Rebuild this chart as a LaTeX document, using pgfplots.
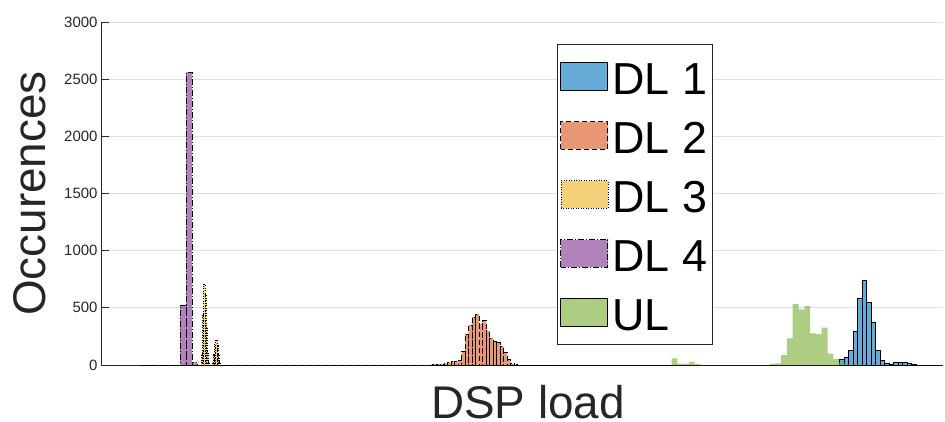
\documentclass[border=0pt]{standalone}
\usepackage{pgfplots}
\pgfplotsset{compat=1.18}
\usepackage{fontspec}
\setmainfont{Liberation Sans}

\definecolor{mblue}{rgb}{0,0.447,0.741}
\definecolor{morange}{rgb}{0.850,0.325,0.098}
\definecolor{myellow}{rgb}{0.929,0.694,0.125}
\definecolor{mpurple}{rgb}{0.494,0.184,0.556}
\definecolor{mgreen}{rgb}{0.466,0.674,0.188}
\definecolor{axgray}{rgb}{0.15,0.15,0.15}

\pgfplotsset{
  hist/.style={ybar interval, fill opacity=0.6, line width=0.9bp,
    legend image code/.code={\draw[##1] (0bp,-13.6bp) rectangle (47bp,13.6bp);}},
}

\begin{document}
\begin{tikzpicture}
\useasboundingbox (-101bp,-57bp) rectangle (844bp,365bp);
\begin{axis}[
  scale only axis, width=842bp, height=343bp,
  xmin=101, xmax=943, ymin=0, ymax=3000,
  axis x line=bottom, axis y line=left,
  axis line style={draw=axgray, line width=0.8bp, -},
  xtick=\empty,
  ytick={0,500,...,3000},
  ymajorgrids, grid style={gray!25, line width=0.8bp},
  tick align=inside, major tick length=8bp,
  tick style={axgray, line width=0.8bp},
  scaled y ticks=false,
  /pgf/number format/assume math mode=true,
  /pgf/number format/1000 sep={},
  yticklabel style={font=\fontsize{15}{18}\selectfont, text=axgray},
  xlabel={DSP load}, ylabel={Occurences},
  label style={font=\fontsize{46}{52}\selectfont, text=axgray, inner sep=0pt},
  xlabel style={at={(axis description cs:0.507,-0.157)}, anchor=base},
  ylabel style={at={(axis description cs:-0.0843,0.5)}, anchor=center},
  legend style={at={(axis description cs:0.5416,0.9359)}, anchor=north west,
    draw=axgray, line width=0.8bp, fill=white,
    font=\fontsize{45}{50}\selectfont,
    inner xsep=3bp, inner ysep=12bp, row sep=19bp, column sep=2bp,
    nodes={inner sep=2bp, text height=36bp, text depth=0bp}},
  legend cell align=left,
]
% DL 1: solid edges
\addplot[hist, fill=mblue, draw=black]
  coordinates {(555,0) (839.5,52) (844,64) (848.5,131) (853,297) (857.5,586)
    (862,743) (866.5,545) (871,370) (875.5,131) (880,44) (884.5,12) (889,8)
    (893.5,20) (898,25) (902.5,22) (907,15) (911.5,6) (916,0) (940,0)};
\addlegendentry{DL 1}
% DL 2: dashed edges
\addplot[hist, fill=morange, draw=black, dash pattern=on 5bp off 3bp]
  coordinates {(228,0) (430,4) (433.5,6) (437,8) (440.5,8) (444,12) (447.5,22)
    (451,30) (454.5,28) (458,42) (461.5,120) (465,270) (468.5,350) (472,420)
    (475.5,446) (479,360) (482.5,390) (486,300) (489.5,235) (493,205)
    (496.5,195) (500,165) (503.5,110) (507,45) (510.5,12) (514,3) (517.5,0)
    (555,0)};
\addlegendentry{DL 2}
% DL 3: dotted edges, narrow bins
\addplot[hist, fill=myellow, draw=black, line width=0.6bp, dash pattern=on 1bp off 1.5bp]
  coordinates {(201.2,100) (202.4,450) (203.6,708) (204.8,620) (206.0,330)
    (207.2,120) (208.4,30) (209.6,0) (212.0,20) (213.2,90) (214.4,180)
    (215.6,220) (216.8,170) (218.0,90) (219.2,30) (220.4,0)};
\addlegendentry{DL 3}
% DL 4: dash-dot edges
\addplot[hist, fill=mpurple, draw=black, dash pattern=on 6bp off 2bp on 1bp off 2bp]
  coordinates {(140,0) (180,525) (186,2560) (192,22) (197,0) (230,0)};
\addlegendentry{DL 4}
% UL: no edges
\addplot[hist, fill=mgreen, draw=none]
  coordinates {(671.5,58) (677.3,12) (683.1,10) (688.9,28) (694.7,8) (700.5,0)
    (769.5,9) (775.3,15) (781.1,87) (786.9,233) (792.7,533) (798.5,487)
    (804.3,515) (810.1,277) (815.9,271) (821.7,326) (827.5,100) (833.3,52)
    (839.1,20) (844.9,5) (850.7,3) (856.5,10) (862.3,0)};
\addlegendentry{UL}
\end{axis}
\end{tikzpicture}
\end{document}
